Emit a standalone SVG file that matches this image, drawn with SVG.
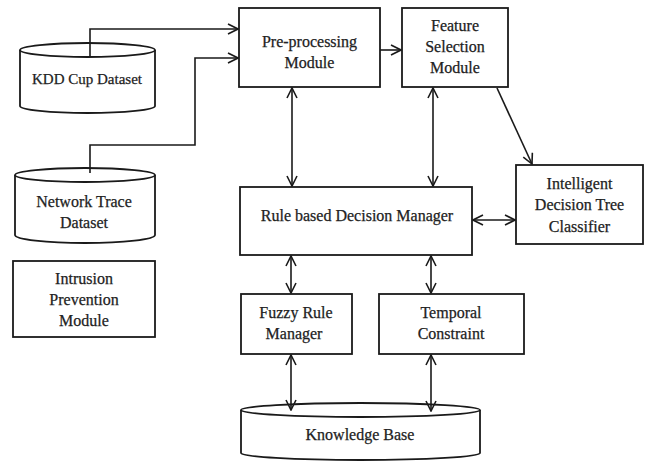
<svg xmlns="http://www.w3.org/2000/svg" width="648" height="463" viewBox="0 0 648 463">
<defs>
<marker id="ah" viewBox="0 0 12 12" refX="11" refY="6" markerWidth="12" markerHeight="12" markerUnits="userSpaceOnUse" orient="auto-start-reverse">
<path d="M1,1 L11,6 L1,11" fill="none" stroke="#1a1a1a" stroke-width="1.6"/>
</marker>
<style>
.b{fill:#fff;stroke:#1a1a1a;stroke-width:1.8}
.t{font-family:"Liberation Serif","Times New Roman",serif;font-size:16px;fill:#222;stroke:#222;stroke-width:0.25;text-anchor:middle}
.c{fill:none;stroke:#1a1a1a;stroke-width:1.6}
</style>
</defs>
<rect width="648" height="463" fill="#fff"/>
<g id="kdd">
<path class="b" d="M20,50 L20,106 A67.5,7 0 0 0 155,106 L155,50"/>
<ellipse class="b" cx="87.5" cy="50" rx="67.5" ry="7"/>
<text class="t" x="87" y="84" style="font-size:15px">KDD Cup Dataset</text>
</g>
<g id="network">
<path class="b" d="M15,175 L15,235 A70,8 0 0 0 155,235 L155,175"/>
<ellipse class="b" cx="85" cy="175" rx="70" ry="7"/>
<text class="t" x="84" y="207">Network Trace</text>
<text class="t" x="84" y="228">Dataset</text>
</g>
<g id="intrusion">
<rect class="b" x="13" y="261" width="142" height="76"/>
<text class="t" x="84" y="284">Intrusion</text>
<text class="t" x="84" y="305">Prevention</text>
<text class="t" x="84" y="326">Module</text>
</g>
<g id="preproc">
<rect class="b" x="239" y="8" width="141" height="79"/>
<text class="t" x="309.5" y="47">Pre-processing</text>
<text class="t" x="309.5" y="68">Module</text>
</g>
<g id="feature">
<rect class="b" x="402" y="8" width="106" height="79"/>
<text class="t" x="455" y="31">Feature</text>
<text class="t" x="455" y="52">Selection</text>
<text class="t" x="455" y="73">Module</text>
</g>
<g id="intelligent">
<rect class="b" x="516" y="165" width="127" height="79"/>
<text class="t" x="579.5" y="189">Intelligent</text>
<text class="t" x="579.5" y="210">Decision Tree</text>
<text class="t" x="579.5" y="232">Classifier</text>
</g>
<g id="rule">
<rect class="b" x="240" y="187" width="232" height="68"/>
<text class="t" x="357" y="221">Rule based Decision Manager</text>
</g>
<g id="fuzzy">
<rect class="b" x="241" y="294" width="111" height="60"/>
<text class="t" x="296" y="318">Fuzzy Rule</text>
<text class="t" x="294" y="339">Manager</text>
</g>
<g id="temporal">
<rect class="b" x="379" y="294" width="145" height="60"/>
<text class="t" x="451" y="318">Temporal</text>
<text class="t" x="451" y="339">Constraint</text>
</g>
<g id="kb">
<path class="b" d="M241,410 L241,453 A119.5,7 0 0 0 480,453 L480,410"/>
<ellipse class="b" cx="360.5" cy="410" rx="119.5" ry="7"/>
<text class="t" x="360" y="440">Knowledge Base</text>
</g>
<g id="connectors">
<path class="c" d="M90,57 L90,29 L238,29" marker-end="url(#ah)"/>
<path class="c" d="M90,173 L90,145 L195,145 L195,58 L238,58" marker-end="url(#ah)"/>
<path class="c" d="M380,50 L401,50" marker-end="url(#ah)"/>
<path class="c" d="M497,88 L532,164" marker-end="url(#ah)"/>
<path class="c" d="M292,88 L292,186" marker-start="url(#ah)" marker-end="url(#ah)"/>
<path class="c" d="M433,88 L433,186" marker-start="url(#ah)" marker-end="url(#ah)"/>
<path class="c" d="M473,220 L515,220" marker-start="url(#ah)" marker-end="url(#ah)"/>
<path class="c" d="M291,256 L291,293" marker-start="url(#ah)" marker-end="url(#ah)"/>
<path class="c" d="M431,256 L431,293" marker-start="url(#ah)" marker-end="url(#ah)"/>
<path class="c" d="M291,355 L291,410" marker-start="url(#ah)" marker-end="url(#ah)"/>
<path class="c" d="M431,355 L431,411" marker-start="url(#ah)" marker-end="url(#ah)"/>
</g>
</svg>
